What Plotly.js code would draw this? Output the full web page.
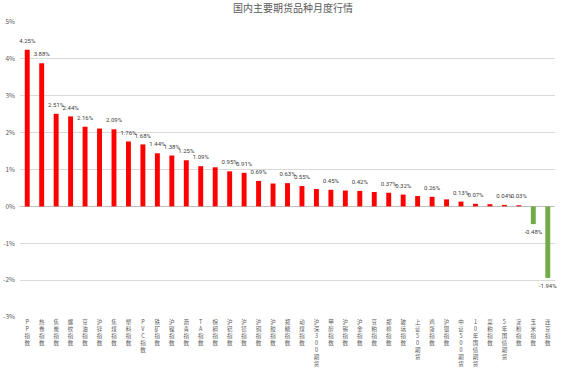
<!DOCTYPE html>
<html>
<head>
<meta charset="utf-8">
<script src="https://cdn.plot.ly/plotly-3.0.1.min.js"></script>
<style>html,body{margin:0;padding:0;background:#fff;}#chart{width:586px;height:383px;}</style>
</head>
<body>
<div id="chart"></div>
<script>
const categories = ["PP指数","热卷指数","焦炭指数","螺纹指数","豆油指数","沪锌指数","焦煤指数","塑料指数","PVC指数","铁矿指数","沪镍指数","沥青指数","TA指数","棕榈指数","沪铝指数","沪铅指数","沪铜指数","沪胶指数","郑糖指数","动煤指数","沪深300期货","甲醇指数","沪锡指数","沪金指数","豆粕指数","郑棉指数","玻璃指数","上证50期货","鸡蛋指数","沪银指数","中证500期货","10年国债期货","菜粕指数","5年国债期货","淀粉指数","玉米指数","连豆指数"];
const values = [4.25,3.88,2.51,2.44,2.16,2.11,2.09,1.76,1.68,1.44,1.38,1.25,1.09,1.06,0.95,0.91,0.69,0.62,0.63,0.55,0.47,0.45,0.43,0.42,0.39,0.37,0.32,0.28,0.26,0.19,0.13,0.07,0.06,0.04,0.03,-0.48,-1.94];
const hiddenLabels = [5,13,17,20,22,24,27,29,32];
const yTicks = [-3,-2,-1,0,1,2,3,4,5];
const yTickText = ["-3%","-2%","-1%","0%","1%","2%","3%","4%","5%"];

const texts = values.map((v,i) => hiddenLabels.includes(i) ? "" : v.toFixed(2) + "%");
const colors = values.map(v => v >= 0 ? "#FF0000" : "#70AD47");
const tickText = categories.map(c => Array.from(c).join("<br>"));

const bars = {
  type: "bar",
  x: categories,
  y: values,
  width: 0.34,
  marker: {color: colors},
  hoverinfo: "none"
};

const labels = {
  type: "scatter",
  mode: "markers+text",
  x: categories,
  y: values,
  text: texts,
  textposition: values.map(v => v >= 0 ? "top center" : "bottom center"),
  textfont: {size: 6, color: "#404040", family: "Liberation Sans Narrow, Roboto, sans-serif"},
  marker: {size: 7, opacity: 0},
  cliponaxis: false,
  hoverinfo: "none"
};

const layout = {
  width: 586, height: 383,
  margin: {l: 20, r: 31, t: 22, b: 66},
  paper_bgcolor: "#fff", plot_bgcolor: "#fff",
  font: {family: "Noto Sans CJK SC", color: "#595959"},
  title: {text: "国内主要期货品种月度行情", xref: "container", x: 0.5, xanchor: "center", yref: "container", y: 0.977, yanchor: "middle", font: {size: 10, color: "#595959", family: "Noto Sans CJK SC"}},
  showlegend: false,
  xaxis: {
    type: "category", range: [-0.5, categories.length - 0.5], autorange: false,
    tickmode: "array", tickvals: categories, ticktext: tickText,
    tickangle: 0, tickfont: {size: 5.5, color: "#595959"},
    showgrid: false, showline: false, ticks: "", automargin: false,
    fixedrange: true
  },
  yaxis: {
    range: [-3, 5], autorange: false, tickmode: "array", tickvals: yTicks, ticktext: yTickText,
    tickfont: {size: 6.5, color: "#595959"},
    showgrid: true, gridcolor: "#D9D9D9", gridwidth: 1,
    zeroline: true, zerolinecolor: "#BFBFBF", zerolinewidth: 1,
    showline: false, ticks: "", automargin: false, ticklabelstandoff: 4
  }
};

Plotly.newPlot("chart", [bars, labels], layout, {staticPlot: true, displayModeBar: false});
</script>
</body>
</html>
